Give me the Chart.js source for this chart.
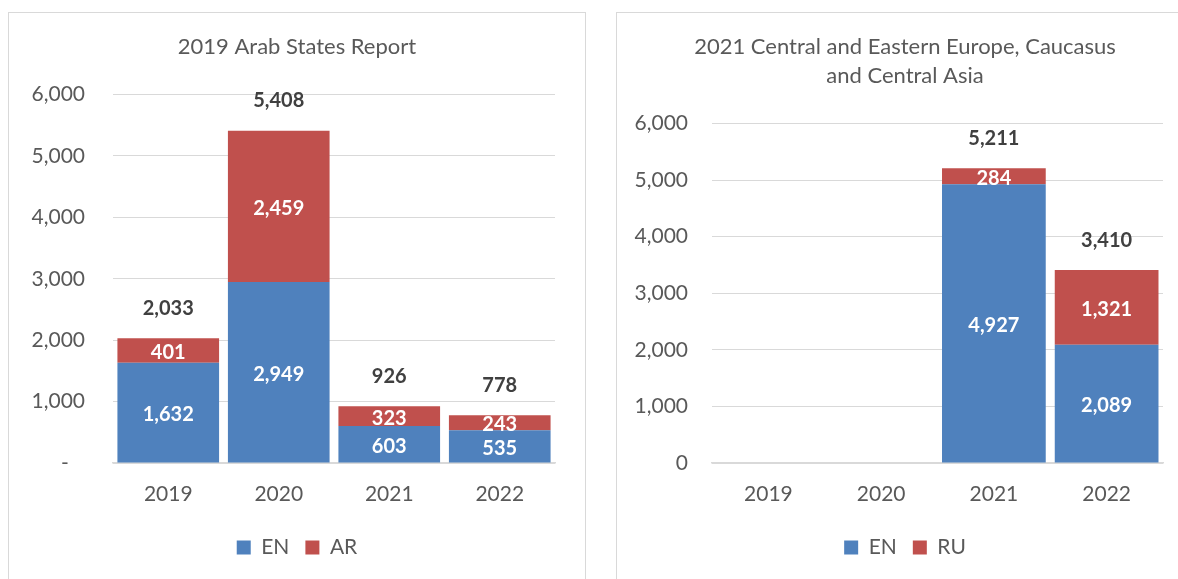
<!DOCTYPE html>
<html>
<head>
<meta charset="utf-8">
<script src="https://cdn.jsdelivr.net/npm/chart.js@4/dist/chart.umd.min.js"></script>
<style>
  html, body { margin: 0; padding: 0; background: #fff; overflow: hidden; }
  .frame { position: absolute; top: 12px; width: 576px; height: 600px; border: 1px solid #d9d9d9; background: #fff; }
  .frame canvas { position: absolute; left: 0; top: 0; }
</style>
</head>
<body>
<div class="frame" style="left:8px"><canvas id="arab" width="576" height="566"></canvas></div>
<div class="frame" style="left:616px"><canvas id="eeca" width="576" height="566"></canvas></div>
<script>
const years = ['2019', '2020', '2021', '2022'];

// Arab States report
const arabEN = [1632, 2949, 603, 535];
const arabAR = [401, 2459, 323, 243];

// Central and Eastern Europe, Caucasus and Central Asia
const eecaEN = [null, null, 4927, 2089];
const eecaRU = [null, null, 284, 1321];

const yTicks = [0, 1000, 2000, 3000, 4000, 5000, 6000];

const BLUE = '#4f81bd', RED = '#c0504d';
const FONT = 'Lato, "Open Sans", sans-serif';
const fmt = v => v.toLocaleString('en-US');

// segment values inside each bar, stack total above
const barLabels = {
  id: 'barLabels',
  afterDatasetsDraw(chart) {
    const ctx = chart.ctx;
    const n = chart.data.labels.length;
    ctx.save();
    ctx.textAlign = 'center';
    ctx.textBaseline = 'middle';
    ctx.font = 'bold 20px ' + FONT;
    chart.data.datasets.forEach((ds, di) => {
      chart.getDatasetMeta(di).data.forEach((el, i) => {
        const v = ds.data[i];
        if (v == null) return;
        ctx.fillStyle = '#fff';
        ctx.fillText(fmt(v), el.x, (el.y + el.base) / 2 + 2);
      });
    });
    const last = chart.data.datasets.length - 1;
    const topEls = chart.getDatasetMeta(last).data;
    for (let i = 0; i < n; i++) {
      let total = 0, any = false;
      chart.data.datasets.forEach(ds => { if (ds.data[i] != null) { total += ds.data[i]; any = true; } });
      if (!any) continue;
      ctx.fillStyle = '#404040';
      ctx.fillText(fmt(total), topEls[i].x, topEls[i].y - 30);
    }
    ctx.restore();
  }
};

function makeChart(id, title, sets, yWidth, yPad, zeroLabel) {
  return new Chart(document.getElementById(id), {
    type: 'bar',
    data: {
      labels: years,
      datasets: sets.map(s => ({
        label: s.label, data: s.data, backgroundColor: s.color,
        barPercentage: 0.92, categoryPercentage: 1, borderWidth: 0
      }))
    },
    options: {
      responsive: false,
      animation: false,
      layout: { padding: { left: 15, right: 15, top: 0, bottom: 11 } },
      plugins: {
        title: {
          display: true, text: title, color: '#595959',
          font: { family: FONT, size: 22, weight: 'normal', lineHeight: 29 / 22 },
          padding: { top: 19.5, bottom: 33 }
        },
        legend: {
          position: 'bottom',
          labels: {
            color: '#595959', boxWidth: 14, boxHeight: 14, padding: 16,
            font: { family: FONT, size: 21 }
          }
        },
        tooltip: { enabled: false }
      },
      scales: {
        x: {
          stacked: true,
          grid: { display: false, drawTicks: false },
          border: { display: true, color: '#d9d9d9', width: 1.5 },
          ticks: { color: '#595959', padding: 19, font: { family: FONT, size: 21 } },
          afterFit: s => { s.height = 58; }
        },
        y: {
          stacked: true, min: 0, max: 6000,
          afterBuildTicks: s => { s.ticks = yTicks.map(v => ({ value: v })); },
          grid: { color: '#d9d9d9', drawTicks: false },
          border: { display: false },
          ticks: {
            color: '#595959', padding: yPad, font: { family: FONT, size: 21 },
            callback: v => (v === 0 ? zeroLabel : fmt(v))
          },
          afterFit: s => { s.width = yWidth; }
        },
        yR: {
          position: 'right', display: true,
          grid: { display: false }, border: { display: false }, ticks: { display: false },
          afterFit: s => { s.width = 15; }
        }
      }
    },
    plugins: [barLabels]
  });
}

makeChart('arab', '2019 Arab States Report', [
  { label: 'EN', data: arabEN, color: BLUE },
  { label: 'AR', data: arabAR, color: RED }
], 89, 28, '-   ');

makeChart('eeca', ['2021 Central and Eastern Europe, Caucasus', 'and Central Asia'], [
  { label: 'EN', data: eecaEN, color: BLUE },
  { label: 'RU', data: eecaRU, color: RED }
], 80, 24, '0');
</script>
</body>
</html>
